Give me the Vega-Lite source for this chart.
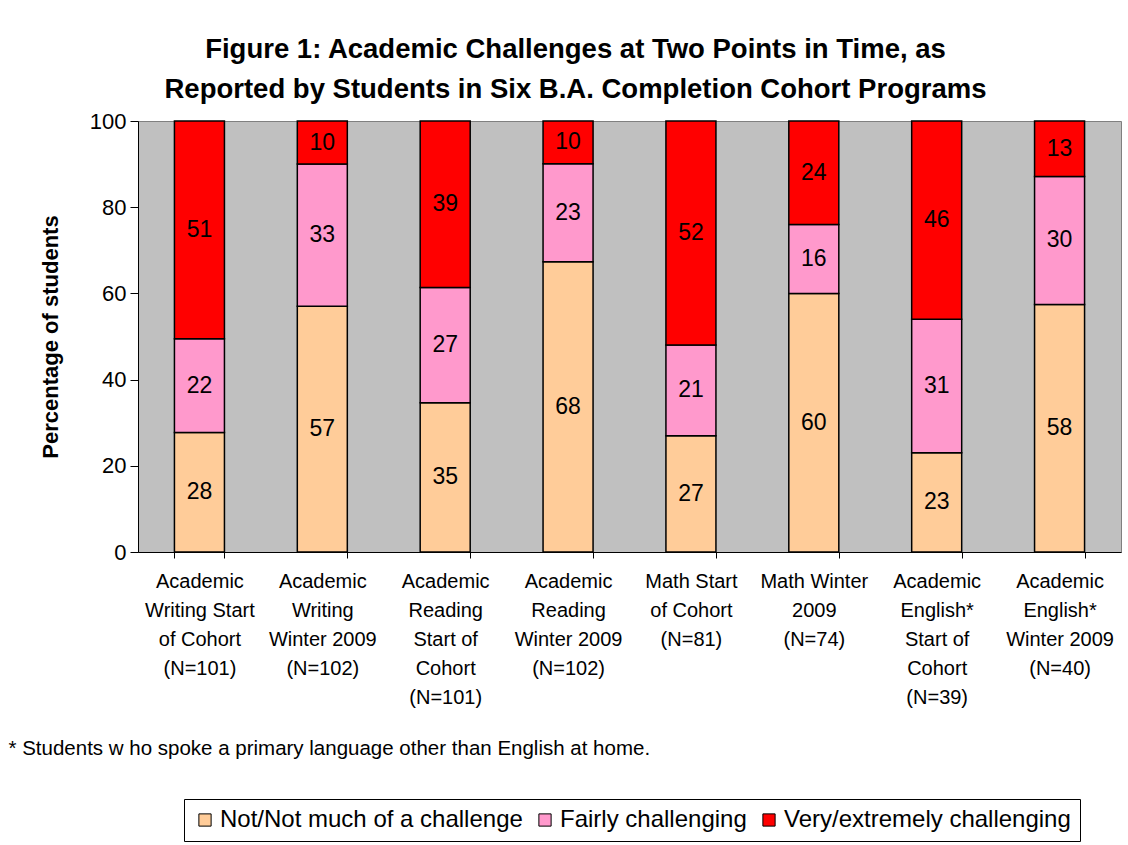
{
  "$schema": "https://vega.github.io/schema/vega-lite/v6.json",
  "width": 983,
  "height": 431,
  "autosize": "none",
  "padding": {"left": 138, "top": 121, "right": 7, "bottom": 293},
  "title": {
    "text": ["Figure 1: Academic Challenges at Two Points in Time, as", "Reported by Students in Six B.A. Completion Cohort Programs"],
    "fontSize": 27.5,
    "fontWeight": "bold",
    "lineHeight": 40,
    "anchor": "middle",
    "frame": "group",
    "dx": -54,
    "offset": 7,
    "color": "black",
    "font": "Liberation Sans"
  },
  "data": {
    "values": [
      {"cat": "Academic|Writing Start|of Cohort|(N=101)", "level": "Not/Not much of a challenge", "order": 1, "value": 28},
      {"cat": "Academic|Writing Start|of Cohort|(N=101)", "level": "Fairly challenging", "order": 2, "value": 22},
      {"cat": "Academic|Writing Start|of Cohort|(N=101)", "level": "Very/extremely challenging", "order": 3, "value": 51},
      {"cat": "Academic|Writing|Winter 2009|(N=102)", "level": "Not/Not much of a challenge", "order": 1, "value": 57},
      {"cat": "Academic|Writing|Winter 2009|(N=102)", "level": "Fairly challenging", "order": 2, "value": 33},
      {"cat": "Academic|Writing|Winter 2009|(N=102)", "level": "Very/extremely challenging", "order": 3, "value": 10},
      {"cat": "Academic|Reading|Start of|Cohort|(N=101)", "level": "Not/Not much of a challenge", "order": 1, "value": 35},
      {"cat": "Academic|Reading|Start of|Cohort|(N=101)", "level": "Fairly challenging", "order": 2, "value": 27},
      {"cat": "Academic|Reading|Start of|Cohort|(N=101)", "level": "Very/extremely challenging", "order": 3, "value": 39},
      {"cat": "Academic|Reading|Winter 2009|(N=102)", "level": "Not/Not much of a challenge", "order": 1, "value": 68},
      {"cat": "Academic|Reading|Winter 2009|(N=102)", "level": "Fairly challenging", "order": 2, "value": 23},
      {"cat": "Academic|Reading|Winter 2009|(N=102)", "level": "Very/extremely challenging", "order": 3, "value": 10},
      {"cat": "Math Start|of Cohort|(N=81)", "level": "Not/Not much of a challenge", "order": 1, "value": 27},
      {"cat": "Math Start|of Cohort|(N=81)", "level": "Fairly challenging", "order": 2, "value": 21},
      {"cat": "Math Start|of Cohort|(N=81)", "level": "Very/extremely challenging", "order": 3, "value": 52},
      {"cat": "Math Winter|2009|(N=74)", "level": "Not/Not much of a challenge", "order": 1, "value": 60},
      {"cat": "Math Winter|2009|(N=74)", "level": "Fairly challenging", "order": 2, "value": 16},
      {"cat": "Math Winter|2009|(N=74)", "level": "Very/extremely challenging", "order": 3, "value": 24},
      {"cat": "Academic|English*|Start of|Cohort|(N=39)", "level": "Not/Not much of a challenge", "order": 1, "value": 23},
      {"cat": "Academic|English*|Start of|Cohort|(N=39)", "level": "Fairly challenging", "order": 2, "value": 31},
      {"cat": "Academic|English*|Start of|Cohort|(N=39)", "level": "Very/extremely challenging", "order": 3, "value": 46},
      {"cat": "Academic|English*|Winter 2009|(N=40)", "level": "Not/Not much of a challenge", "order": 1, "value": 58},
      {"cat": "Academic|English*|Winter 2009|(N=40)", "level": "Fairly challenging", "order": 2, "value": 30},
      {"cat": "Academic|English*|Winter 2009|(N=40)", "level": "Very/extremely challenging", "order": 3, "value": 13}
    ]
  },
  "transform": [
    {"stack": "value", "groupby": ["cat"], "sort": [{"field": "order", "order": "ascending"}], "as": ["y0", "y1"], "offset": "normalize"},
    {"calculate": "(datum.y0 + datum.y1) / 2", "as": "mid"}
  ],
  "layer": [
    {
      "mark": {"type": "bar", "stroke": "black", "strokeWidth": 1.5},
      "encoding": {
        "x": {
          "field": "cat",
          "type": "nominal",
          "sort": null,
          "scale": {"paddingInner": 0.593, "paddingOuter": 0.2965},
          "axis": {
            "title": "* Students w ho spoke a primary language other than English at home.",
            "titleFontSize": 20.5,
            "titleFontWeight": "normal",
            "titleColor": "black",
            "titleX": -130,
            "titleY": 196,
            "titleAnchor": "start",
            "titleAlign": "left",
            "titleBaseline": "middle",
            "labelExpr": "split(datum.label, '|')",
            "labelFontSize": 20,
            "labelLineHeight": 29,
            "labelAngle": 0,
            "labelPadding": 13,
            "labelLimit": 0,
            "labelColor": "black",
            "tickBand": "extent",
            "tickSize": 6,
            "tickColor": "black",
            "domainColor": "black"
          }
        },
        "y": {
          "field": "y1",
          "type": "quantitative",
          "scale": {"domain": [0, 1], "nice": false},
          "axis": {
            "title": "Percentage of students",
            "values": [0, 0.2, 0.4, 0.6, 0.8, 1],
            "labelExpr": "format(datum.value * 100, 'd')",
            "labelFontSize": 22,
            "labelColor": "black",
            "labelPadding": 4,
            "tickSize": 8,
            "tickColor": "black",
            "domainColor": "black",
            "grid": false,
            "titleFontSize": 22,
            "titleFontWeight": "bold",
            "titleColor": "black",
            "titleX": -88,
            "titleY": 215.5,
            "titleAlign": "center",
            "titleBaseline": "middle"
          }
        },
        "y2": {"field": "y0"},
        "color": {
          "field": "level",
          "type": "nominal",
          "scale": {
            "domain": ["Not/Not much of a challenge", "Fairly challenging", "Very/extremely challenging"],
            "range": ["#FFCC99", "#FF99CC", "#FF0000"]
          },
          "legend": {
            "orient": "none",
            "legendX": 46,
            "legendY": 678,
            "direction": "horizontal",
            "title": null,
            "strokeColor": "black",
            "fillColor": "white",
            "padding": 9,
            "symbolType": "square",
            "symbolSize": 150,
            "symbolStrokeColor": "black",
            "symbolStrokeWidth": 1,
            "symbolOpacity": 1,
            "labelFontSize": 24,
            "labelColor": "black",
            "labelLimit": 0,
            "columnPadding": 10,
            "labelOffset": 3
          }
        }
      }
    },
    {
      "mark": {"type": "text", "fontSize": 23, "color": "black", "align": "center", "baseline": "middle"},
      "encoding": {
        "x": {"field": "cat", "type": "nominal", "sort": null},
        "y": {"field": "mid", "type": "quantitative"},
        "text": {"field": "value", "type": "quantitative"}
      }
    }
  ],
  "config": {
    "font": "Liberation Sans",
    "view": {"fill": "#C0C0C0", "stroke": "#808080"}
  }
}
